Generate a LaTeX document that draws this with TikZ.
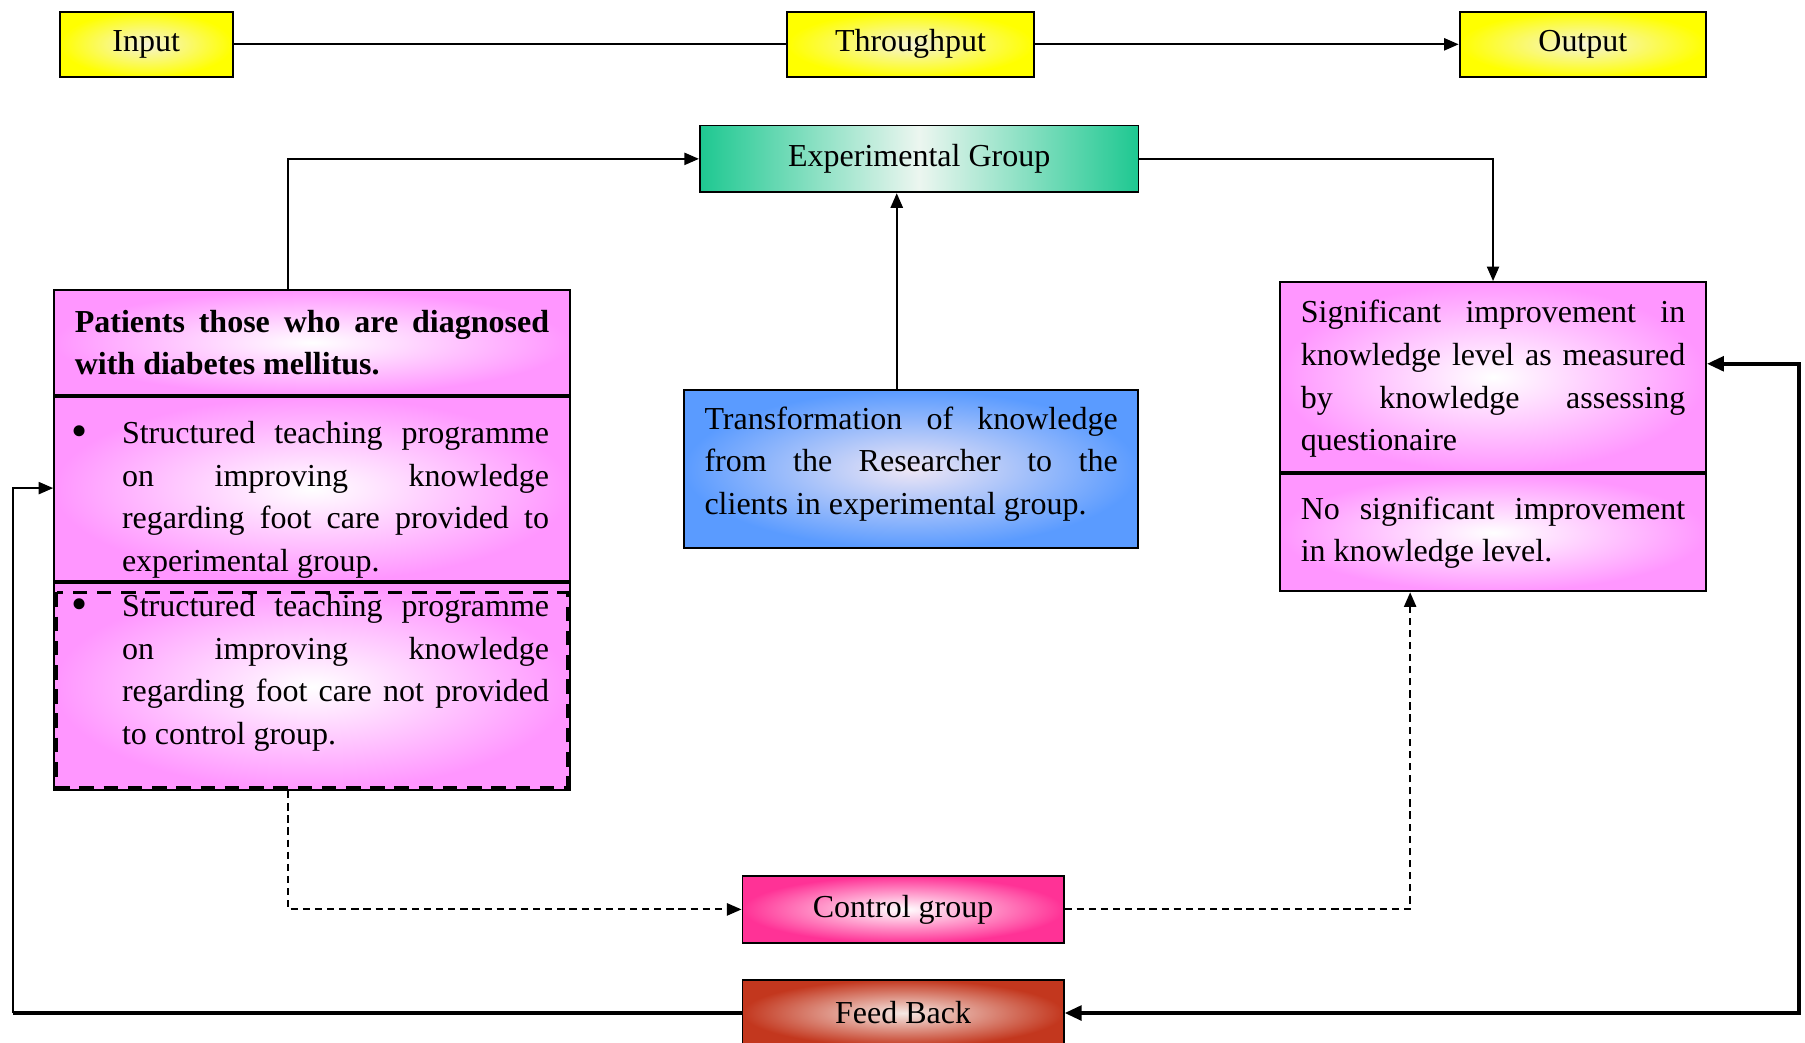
\documentclass[tikz,border=0pt]{standalone}
\usepackage{fontspec}
\setmainfont{Liberation Serif}
\usetikzlibrary{positioning,arrows.meta}

\definecolor{ioyellow}{RGB}{255,255,0}
\definecolor{iopale}{RGB}{245,243,215}
\definecolor{expgreen}{RGB}{30,200,145}
\definecolor{expmid}{RGB}{236,246,240}
\definecolor{pinkbox}{RGB}{255,150,255}
\definecolor{bluebox}{RGB}{90,155,255}
\definecolor{bluemid}{RGB}{238,230,245}
\definecolor{ctrlpink}{RGB}{255,50,150}
\definecolor{fbred}{RGB}{195,55,30}
\definecolor{fbmid}{RGB}{246,232,228}

\newcommand{\bulpar}{\hangindent=0.684cm\hangafter=0\noindent
  \llap{\raisebox{-0.1em}{\fontsize{19}{19}\selectfont\textbullet}\hspace{0.5cm}}}
% extra space under the last line of a node text
\newcommand{\padbelow}[1]{\par\vspace{#1}\hrule height 0pt}

\begin{document}
\begin{tikzpicture}[
    x=0.016692cm, y=-0.016692cm,
    every node/.style={font={\fontsize{13.2}{17.6}\selectfont\spaceskip=0.25em plus 1em\relax
      \hyphenpenalty=10000\exhyphenpenalty=10000\tolerance=10000\adjdemerits=0}},
    box/.style={draw, line width=0.8pt, inner sep=0pt, align=center},
    iobox/.style={box, minimum height=0.951cm, inner color=iopale, outer color=ioyellow},
    pinkpart/.style={box, text width=6.877cm, inner xsep=0.3cm, align=justify,
      inner color=white, outer color=pinkbox},
    rightpart/.style={box, text width=5.575cm, inner xsep=0.3cm, align=justify,
      inner color=white, outer color=pinkbox},
    line/.style={line width=0.8pt},
    thk/.style={line width=1.6pt},
    arr/.style={-{Triangle[length=6pt,width=5pt]}},
    dsh/.style={line width=0.8pt, dash pattern=on 3pt off 2pt}
  ]
  \useasboundingbox (0,0) rectangle (1568,906);

  % top row
  \node[iobox, minimum width=2.504cm] (input) at (127,38.5) {Input};
  \node[iobox, minimum width=3.572cm] (thru) at (791,38.5) {Throughput};
  \node[iobox, minimum width=3.572cm] (output) at (1375,38.5) {Output};

  % groups
  \node[box, minimum width=6.36cm, minimum height=0.968cm,
    left color=expgreen, right color=expgreen, middle color=expmid] (exp) at (798.5,138) {Experimental Group};
  \node[box, minimum width=4.657cm, minimum height=0.968cm,
    inner color=white, outer color=ctrlpink] (control) at (784.5,790) {Control group};
  \node[box, minimum width=4.657cm, minimum height=0.968cm,
    inner color=fbmid, outer color=fbred] (feed) at (784.5,880) {Feed Back};

  % left box
  \node[pinkpart, minimum height=1.519cm] (head) at (271,297.5)
    {\textbf{Patients those who are diagnosed with diabetes mellitus.}\par};
  \node[pinkpart, minimum height=2.671cm, below=0pt of head] (part1)
    {\bulpar Structured teaching programme on improving knowledge regarding foot care provided~to experimental group.\padbelow{-0.32cm}};
  \node[pinkpart, minimum height=3.005cm, below=0pt of part1] (part2)
    {\bulpar Structured teaching programme on improving knowledge regarding foot care not provided to control group.\padbelow{0.4cm}};
  \draw[line width=1.2pt, dash pattern=on 6pt off 4pt]
    ([xshift=0.05cm,yshift=-0.15cm]part2.north west) rectangle ([xshift=-0.05cm,yshift=0.05cm]part2.south east);

  % middle box
  \node[box, text width=5.992cm, inner xsep=0.3cm, align=justify, minimum height=2.287cm,
    inner color=bluemid, outer color=bluebox] (blue) at (791.5,407.5)
    {Transformation of knowledge from the Researcher to the clients in experimental group.\padbelow{0.15cm}};

  % right box
  \node[rightpart, minimum height=2.754cm] (rtop) at (1297,327.5)
    {Significant improvement in knowledge level as measured by knowledge assessing questionaire\padbelow{-0.06cm}};
  \node[rightpart, minimum height=1.703cm, below=0pt of rtop] (rbot)
    {No significant improvement in knowledge level.\par};

  % connectors
  \coordinate (k1) at (250,0);
  \coordinate (k3) at (779,0);
  \coordinate (k5) at (1225,0);
  \coordinate (k6) at (1563,316);
  \coordinate (k7) at (11,424);

  \draw[line] (input) -- (thru);
  \draw[line, arr] (thru) -- (output);
  \draw[line, arr] (head.north -| k1) |- (exp.west);
  \draw[line, arr] (exp.east) -| (rtop.north);
  \draw[line, arr] (blue.north -| k3) -- (exp.south -| k3);
  \draw[dsh, arr] (part2.south -| k1) |- (control.west);
  \draw[dsh, arr] (control.east) -| (rbot.south -| k5);
  \draw[thk, {Triangle[length=7pt,width=6pt]}-{Triangle[length=7pt,width=6pt]}]
    (rtop.east |- k6) -- (k6) |- (feed.east);
  \draw[thk] (feed.west) -- (feed.west -| k7);
  \draw[line, arr] (feed.west -| k7) -- (k7) -- (part1.west |- k7);
\end{tikzpicture}
\end{document}
